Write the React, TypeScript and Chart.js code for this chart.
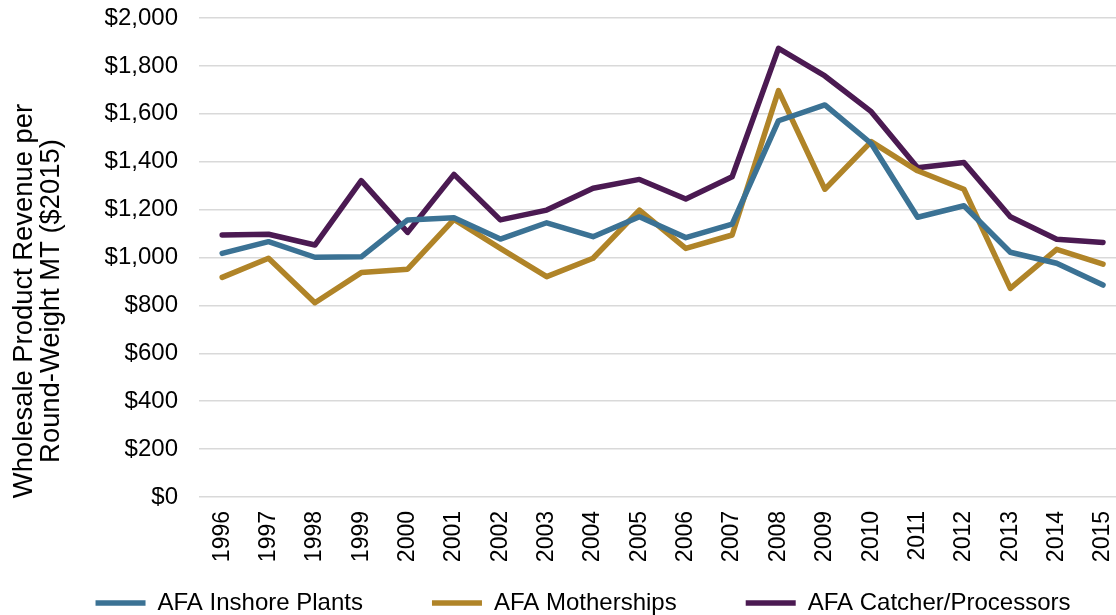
import React, { useEffect, useRef } from 'react';
import { Chart, registerables } from 'chart.js';

Chart.register(...registerables);

const years = ['1996', '1997', '1998', '1999', '2000', '2001', '2002', '2003', '2004', '2005', '2006', '2007', '2008', '2009', '2010', '2011', '2012', '2013', '2014', '2015'];
const inshorePlants = [1017, 1066, 1001, 1003, 1157, 1166, 1077, 1145, 1087, 1170, 1083, 1139, 1571, 1637, 1476, 1168, 1216, 1022, 976, 885];
const motherships = [917, 997, 811, 937, 951, 1159, 1038, 920, 997, 1198, 1038, 1094, 1697, 1285, 1484, 1362, 1285, 871, 1034, 972];
const catcherProcessors = [1094, 1097, 1052, 1321, 1105, 1347, 1157, 1198, 1289, 1326, 1244, 1337, 1873, 1758, 1609, 1375, 1397, 1170, 1076, 1063];
const seriesNames = ['AFA Inshore Plants', 'AFA Motherships', 'AFA Catcher/Processors'];
const seriesColors = ['#3b7294', '#b08428', '#4b1a52'];
const yTitleLines = ['Wholesale Product Revenue per', 'Round-Weight MT ($2015)'];

const FONT = '"Liberation Sans", Arial, Helvetica, sans-serif';

const yTitlePlugin = {
  id: 'yTitleLines',
  afterDraw(chart: any) {
    const ctx = chart.ctx;
    ctx.save();
    ctx.font = `27.4px ${FONT}`;
    ctx.fillStyle = '#000';
    ctx.textAlign = 'center';
    ctx.textBaseline = 'alphabetic';
    const cy = 301;
    const xs = [32, 58.5];
    yTitleLines.forEach((line, i) => {
      ctx.save();
      ctx.translate(xs[i], cy);
      ctx.rotate(-Math.PI / 2);
      ctx.fillText(line, 0, 0);
      ctx.restore();
    });
    ctx.restore();
  },
};

const legendPlacePlugin = {
  id: 'legendPlace',
  afterLayout(chart: any) {
    const lg = chart.legend;
    if (!lg) return;
    lg.left -= 2;
    lg.right += 38;
    lg.top = 522;
  },
};

export default function App() {
  const ref = useRef<HTMLCanvasElement | null>(null);

  useEffect(() => {
    if (!ref.current) return;
    const data = [inshorePlants, motherships, catcherProcessors];
    const chart = new Chart(ref.current, {
      type: 'line',
      data: {
        labels: years,
        datasets: data.map((d, i) => ({
          label: seriesNames[i],
          data: d,
          borderColor: seriesColors[i],
          backgroundColor: seriesColors[i],
          borderWidth: 5.5,
          borderCapStyle: 'round' as const,
          borderJoinStyle: 'round' as const,
          pointRadius: 0,
          pointHoverRadius: 0,
          tension: 0,
          fill: false,
        })),
      },
      options: {
        animation: false,
        responsive: false,
        devicePixelRatio: 1,
        layout: { padding: { left: 0, right: 15, top: 18, bottom: 0 } },
        scales: {
          x: {
            offset: true,
            grid: { display: false, drawTicks: false },
            border: { display: false },
            ticks: {
              minRotation: 90,
              maxRotation: 90,
              padding: 14,
              color: '#000',
              font: { family: FONT, size: 23 },
              autoSkip: false,
            },
            afterFit: (scale: any) => {
              scale.height = 64;
            },
          },
          y: {
            min: 0,
            max: 2000,
            grid: { color: '#d9d9d9', lineWidth: 1.5, drawTicks: false },
            border: { display: false },
            ticks: {
              stepSize: 200,
              padding: 21,
              color: '#000',
              font: { family: FONT, size: 24 },
              callback: (v: any) => '$' + Number(v).toLocaleString('en-US'),
            },
            afterFit: (scale: any) => {
              scale.width = 199;
              scale.paddingTop = 0;
            },
          },
        },
        plugins: {
          legend: {
            position: 'bottom',
            maxHeight: 54,
            labels: {
              color: '#000',
              font: { family: FONT, size: 24 },
              usePointStyle: true,
              pointStyle: 'line',
              pointStyleWidth: 50,
              padding: 69,
            },
          },
          tooltip: { enabled: false },
        },
      },
      plugins: [yTitlePlugin, legendPlacePlugin],
    } as any);
    return () => chart.destroy();
  }, []);

  return (
    <div style={{ position: 'absolute', left: 0, top: 0, width: 1116, height: 615, overflow: 'hidden', background: '#fff' }}>
      <canvas ref={ref} width={1145} height={615} style={{ display: 'block', width: 1145, height: 615 }} />
    </div>
  );
}
